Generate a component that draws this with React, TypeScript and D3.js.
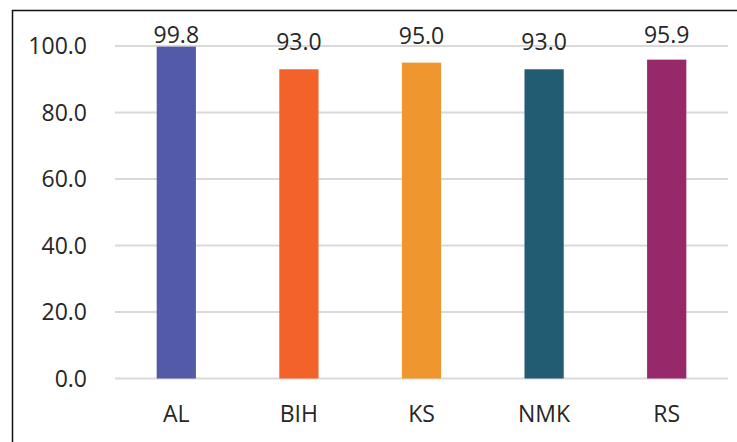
import React from "react";
import * as d3 from "d3";

const categories = ["AL", "BIH", "KS", "NMK", "RS"];
const values = [99.8, 93.0, 95.0, 93.0, 95.9];
const colors = ["#535aa8", "#f36329", "#f0962f", "#225c73", "#97286a"];
const yTicks = [0, 20, 40, 60, 80, 100];

const W = 737;
const H = 442;
const FONT = "'Open Sans', sans-serif";
const TEXT = "#262626";

export default function App() {
  const x = d3
    .scaleBand<string>()
    .domain(categories)
    .range([115, 728])
    .paddingInner(0.68)
    .paddingOuter(0.34);
  const y = d3.scaleLinear().domain([0, 100]).range([378.5, 46]);
  const fmt = d3.format(".1f");

  return (
    <svg
      width={W}
      height={H}
      style={{ position: "absolute", left: 0, top: 0, background: "#fff" }}
    >
      <rect x={0} y={0} width={W} height={H} fill="#fff" />
      <path d={`M12.5,${H} V10.5 H${W}`} fill="none" stroke="#111" strokeWidth={1.5} />
      {yTicks.map((t) => (
        <g key={t}>
          <line x1={115} x2={728} y1={y(t)} y2={y(t)} stroke="#d9d9d9" strokeWidth={2} />
          <text
            x={87}
            y={y(t) + 8}
            textAnchor="end"
            fontFamily={FONT}
            fontSize={23}
            fill={TEXT}
          >
            {fmt(t)}
          </text>
        </g>
      ))}
      {categories.map((c, i) => {
        const bx = x(c)!;
        const by = y(values[i]);
        const cx = bx + x.bandwidth() / 2;
        return (
          <g key={c}>
            <rect x={bx} y={by} width={x.bandwidth()} height={y(0) - by} fill={colors[i]} />
            <text
              x={cx}
              y={Math.max(by - 19, 43)}
              textAnchor="middle"
              fontFamily={FONT}
              fontSize={23}
              fill={TEXT}
            >
              {fmt(values[i])}
            </text>
            <text
              x={cx}
              y={421.5}
              textAnchor="middle"
              fontFamily={FONT}
              fontSize={23}
              fill={TEXT}
            >
              {c}
            </text>
          </g>
        );
      })}
    </svg>
  );
}
